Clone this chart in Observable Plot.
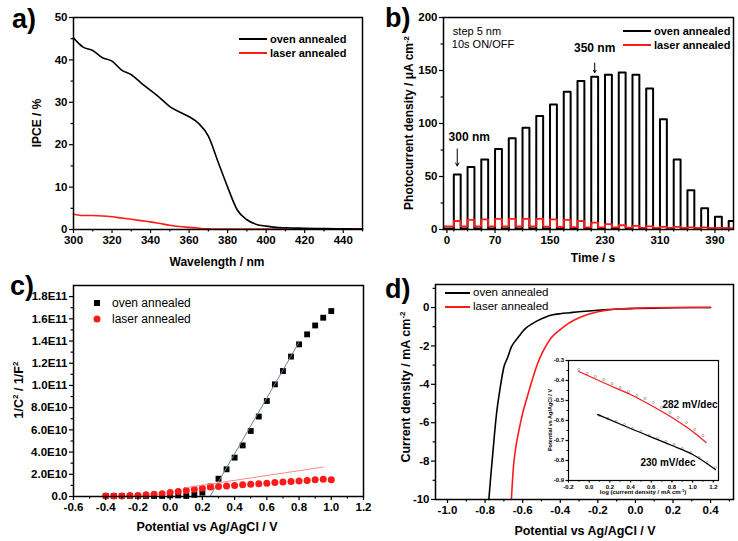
<!DOCTYPE html>
<html><head><meta charset="utf-8">
<script src="https://cdn.jsdelivr.net/npm/d3@7"></script>
<script src="https://cdn.jsdelivr.net/npm/@observablehq/plot@0.6"></script>
<style>
body{margin:0;background:#fff;}
#root{position:relative;width:738px;height:541px;overflow:hidden;background:#fff;font-family:"Liberation Sans",Arial,sans-serif;color:#000;}
.t{position:absolute;white-space:nowrap;line-height:1;transform:translate(-50%,-50%);}
.r{transform:translate(-50%,-50%) rotate(-90deg);}
.b{font-weight:bold;}
.letter{position:absolute;font-weight:bold;font-size:27px;line-height:1;}
.leg{position:absolute;display:flex;align-items:center;white-space:nowrap;line-height:1;}
sup{font-size:65%;vertical-align:0.55em;line-height:0;}
</style></head><body><div id="root"></div>
<script>
// ---------- Panel a: IPCE ----------
const waveNm = [300,305,310,315,320,325,330,335,340,345,350,355,360,365,370,375,380,385,390,395,400,405,410,420,430,440,450];
const ipceOven = [45.2,43.0,42.2,40.5,39.7,37.6,36.5,34.6,32.8,31.0,29.0,27.7,26.6,25.0,22.0,16.0,10.0,4.6,2.3,1.2,0.8,0.5,0.4,0.3,0.2,0.15,0.1];
const ipceLaser = [3.6,3.3,3.3,3.2,3.0,2.7,2.4,2.1,1.8,1.4,1.0,0.7,0.5,0.3,0.15,0.1,0.1,0.1,0.1,0.1,0.1,0.1,0.1,0.1,0.1,0.1,0.1];

// ---------- Panel b: chopped photocurrent ----------
const pulseNm = [300,305,310,315,320,325,330,335,340,345,350,355,360,365,370,375,380,385,390,395,400];
const pulseOnTime = [10,30,50,70,90,110,130,150,170,190,210,230,250,270,290,310,330,350,370,390,410];
const pulseLength = 10;
const ovenPeak = [52,59,66,76,86,96,107,118,130,140,144,146,148,146,133,104,66,37,20,12,8];
const ovenDark = [1,1,1,1,1,1,1,1,1,1,1,1,1,1,1,1,1,1,1,1,1];
const laserPeak = [8,9,9.5,10,10,10,10,9.5,9,8,6.5,5,4,3.5,3,2.5,2.5,2,2,1.5,1.2];
const laserDark = [3,3,3,3,3,3,3,2.5,2.5,2,2,2,2,1.5,1.5,1.5,1.5,1.2,1.2,1,1];

// ---------- Panel c: Mott-Schottky ----------
const potC = [-0.4,-0.35,-0.3,-0.25,-0.2,-0.15,-0.1,-0.05,0,0.05,0.1,0.15,0.2,0.25,0.3,0.35,0.4,0.45,0.5,0.55,0.6,0.65,0.7,0.75,0.8,0.85,0.9,0.95,1.0];
const msOven = [0.05,0.05,0.05,0.05,0.05,0.05,0.05,0.05,0.1,0.1,0.05,0.15,0.35,0.9,1.6,2.45,3.5,4.6,5.9,7.2,8.6,10.1,11.3,12.6,13.7,14.6,15.4,16.1,16.7]; // x1e10
const msLaser = [0.05,0.05,0.05,0.1,0.1,0.15,0.2,0.25,0.35,0.45,0.55,0.65,0.75,0.85,0.9,0.95,1.0,1.05,1.1,1.15,1.2,1.25,1.3,1.35,1.4,1.45,1.5,1.55,1.5]; // x1e10
const fitOvenX = [0.235,0.80], fitOvenY = [-0.3,13.9];   // x1e10
const fitLaserX = [0.10,0.95], fitLaserY = [0.8,2.65];  // x1e10

// ---------- Panel d: LSV ----------
const potOven = [-0.78,-0.77,-0.76,-0.75,-0.74,-0.72,-0.70,-0.68,-0.66,-0.64,-0.62,-0.60,-0.58,-0.55,-0.52,-0.48,-0.44,-0.40,-0.35,-0.30,-0.25,-0.20,-0.15,-0.10,0.0,0.1,0.2,0.3,0.4];
const curOven = [-10,-8.8,-7.7,-6.6,-5.6,-4.2,-3.1,-2.6,-2.05,-1.75,-1.5,-1.25,-1.05,-0.85,-0.68,-0.5,-0.38,-0.32,-0.27,-0.22,-0.18,-0.14,-0.11,-0.08,-0.05,-0.03,-0.01,0,0];
const potLaser = [-0.66,-0.65,-0.64,-0.62,-0.60,-0.58,-0.55,-0.52,-0.49,-0.45,-0.40,-0.36,-0.32,-0.28,-0.24,-0.20,-0.16,-0.10,0.0,0.1,0.2,0.4];
const curLaser = [-10,-8.4,-7.5,-6.4,-5.5,-4.8,-3.8,-2.9,-2.25,-1.6,-1.15,-0.85,-0.62,-0.45,-0.32,-0.22,-0.15,-0.08,-0.03,-0.01,0,0];

// Tafel inset
const tafLaserX = [-0.1,0.2,0.4,0.6,0.8,1.0,1.13];
const tafLaserY = [-0.355,-0.425,-0.47,-0.525,-0.585,-0.655,-0.71];
const tafOvenX = [0.08,0.4,0.8,1.0,1.22];
const tafOvenY = [-0.57,-0.64,-0.725,-0.77,-0.845];
const tafLaserDataX = [-0.1,-0.02,0.06,0.14,0.22,0.3,0.38,0.46,0.54,0.62,0.7,0.78,0.86,0.94,1.02,1.1];
const tafLaserDataY = [-0.345,-0.365,-0.38,-0.395,-0.415,-0.435,-0.455,-0.475,-0.49,-0.51,-0.535,-0.56,-0.585,-0.61,-0.645,-0.675];
const tafOvenDataX = [0.1,0.18,0.26,0.34,0.42,0.5,0.58,0.66,0.74,0.82,0.9,0.98,1.06,1.14,1.22];
const tafOvenDataY = [-0.575,-0.59,-0.605,-0.62,-0.64,-0.655,-0.675,-0.69,-0.705,-0.72,-0.74,-0.76,-0.785,-0.81,-0.835];

const RED = "#ff1a1a";
const FONT = "'Liberation Sans', Arial, sans-serif";
const root = document.getElementById("root");

function zip(xs, ys, s = 1) { return xs.map((x, i) => ({x, y: ys[i] * s})); }
const f1 = d => d.toFixed(1);
const fInt = d => String(d);
const blank = () => "";

function panel({left, top, width, height, m, xDomain, yDomain, xTicks, xMinor, yTicks, yMinor, xFmt, yFmt, marks, fontSize = 11.5, tick = 4, frameW = 1.5, pre = []}) {
  const svg = Plot.plot({
    width, height,
    marginTop: m[0], marginRight: m[1], marginBottom: m[2], marginLeft: m[3],
    x: {domain: xDomain, label: null},
    y: {domain: yDomain, label: null},
    style: {fontFamily: FONT, fontSize: fontSize + "px", fontWeight: "bold", background: "transparent", overflow: "visible", color: "#000"},
    marks: [
      ...pre,
      ...marks,
      Plot.axisX({ticks: xMinor, tickSize: tick * 0.6, tickFormat: blank, strokeWidth: 1.2}),
      Plot.axisX({ticks: xTicks, tickSize: tick, tickPadding: 2, tickFormat: xFmt, strokeWidth: 1.2}),
      Plot.axisY({ticks: yMinor, tickSize: tick * 0.6, tickFormat: blank, strokeWidth: 1.2}),
      Plot.axisY({ticks: yTicks, tickSize: tick, tickPadding: 2, tickFormat: yFmt, strokeWidth: 1.2}),
      Plot.frame({strokeWidth: frameW})
    ]
  });
  svg.style.position = "absolute";
  svg.style.left = left + "px";
  svg.style.top = top + "px";
  root.append(svg);
  return svg;
}

function text(html, x, y, {size = 12, bold = true, rot = false} = {}) {
  const d = document.createElement("div");
  d.className = "t" + (rot ? " r" : "") + (bold ? " b" : "");
  d.style.left = x + "px"; d.style.top = y + "px"; d.style.fontSize = size + "px";
  d.innerHTML = html;
  root.append(d);
}
function letter(s, x, y) {
  const d = document.createElement("div");
  d.className = "letter"; d.style.left = x + "px"; d.style.top = y + "px"; d.textContent = s;
  root.append(d);
}
function legendRow(label, color, kind, x, y, {sw = 28, gap = 3, size = 11, bold = true} = {}) {
  const d = document.createElement("div");
  d.className = "leg"; d.style.left = x + "px"; d.style.top = (y - 7) + "px"; d.style.height = "14px";
  d.style.fontSize = size + "px"; d.style.fontWeight = bold ? "bold" : "normal";
  let shape;
  if (kind === "line") shape = `<line x1="0" x2="${sw}" y1="5" y2="5" stroke="${color}" stroke-width="2"/>`;
  else if (kind === "square") shape = `<rect x="${sw/2-3}" y="2" width="6" height="6" fill="${color}"/>`;
  else shape = `<circle cx="${sw/2}" cy="5" r="3.5" fill="${color}"/>`;
  d.innerHTML = `<svg width="${sw}" height="10" style="margin-right:${gap}px;flex:none">${shape}</svg><span>${label}</span>`;
  root.append(d);
}

// ===== Panel a =====
panel({
  left: 0, top: 0, width: 369, height: 270, m: [17, 7, 41, 73],
  xDomain: [300, 450], yDomain: [0, 50],
  xTicks: d3.range(300, 441, 20), xMinor: d3.range(310, 451, 20),
  yTicks: d3.range(0, 51, 10), yMinor: d3.range(5, 50, 10),
  xFmt: fInt, yFmt: fInt,
  marks: [
    Plot.line(zip(waveNm, ipceLaser), {x: "x", y: "y", stroke: RED, strokeWidth: 1.6, curve: "monotone-x"}),
    Plot.line(zip(waveNm, ipceOven), {x: "x", y: "y", stroke: "#000", strokeWidth: 1.6, curve: "monotone-x"})
  ]
});
letter("a)", 12, 6);
text("Wavelength / nm", 217, 262);
text("IPCE / %", 37, 123, {rot: true});
legendRow("oven annealed", "#000", "line", 239, 39);
legendRow("laser annealed", RED, "line", 239, 53);

// ===== Panel b =====
function pulses(peaks, dark) {
  const pts = [{x: -5, y: dark[0]}];
  peaks.forEach((p, i) => {
    const on = pulseOnTime[i];
    pts.push({x: on, y: dark[i]}, {x: on, y: p}, {x: on + pulseLength, y: p}, {x: on + pulseLength, y: dark[i]});
  });
  pts.push({x: 430, y: dark[dark.length - 1]});
  return pts;
}
const annot = [{label: "300 nm", i: 0}, {label: "350 nm", i: 10}].map(a => ({
  label: a.label, x: pulseOnTime[a.i] + pulseLength / 2, y: ovenPeak[a.i]
}));
panel({
  left: 369, top: 0, width: 369, height: 270, m: [17, 5, 41, 74],
  xDomain: [-5, 417], yDomain: [0, 200],
  xTicks: [0, 70, 150, 230, 310, 390],
  xMinor: [10, 30, 50, 90, 110, 130, 170, 190, 210, 250, 270, 290, 330, 350, 370, 410],
  yTicks: d3.range(0, 201, 50), yMinor: d3.range(25, 200, 50),
  xFmt: fInt, yFmt: fInt,
  marks: [
    Plot.line(pulses(ovenPeak, ovenDark), {x: "x", y: "y", stroke: "#000", strokeWidth: 2, clip: true}),
    Plot.line(pulses(laserPeak, laserDark), {x: "x", y: "y", stroke: RED, strokeWidth: 1.8, clip: true}),
    Plot.text([annot[0]], {x: "x", y: "y", text: "label", dy: -37, dx: 12, fontSize: 12, fontWeight: "bold"}),
    Plot.arrow([annot[0]], {x: "x", y1: d => d.y + 24, y2: d => d.y + 8, stroke: "#000", strokeWidth: 1, headLength: 5}),
    Plot.text([annot[1]], {x: "x", y: "y", text: "label", dy: -29, fontSize: 12, fontWeight: "bold"}),
    Plot.arrow([annot[1]], {x: "x", y1: d => d.y + 13, y2: d => d.y + 4, stroke: "#000", strokeWidth: 1, headLength: 4})
  ]
});
letter("b)", 385, 5);
text("step 5 nm", 450 + 27, 31, {size: 11, bold: false});
text("10s ON/OFF", 450 + 33, 44, {size: 11, bold: false});
text("Time / s", 593, 258);
text("Photocurrent density / μA cm<sup>-2</sup>", 409, 123, {rot: true});
legendRow("oven annealed", "#000", "line", 623, 31);
legendRow("laser annealed", RED, "line", 623, 45);

// ===== Panel c =====
const eFmt = v => {
  if (v === 0) return "0.0";
  const e = Math.floor(Math.log10(v) + 1e-9);
  return (v / Math.pow(10, e)).toFixed(1) + "E" + e;
};
panel({
  left: 0, top: 270, width: 369, height: 271, m: [15, 6, 45, 73],
  xDomain: [-0.6, 1.2], yDomain: [0, 1.9e11],
  xTicks: d3.range(-6, 13, 2).map(v => v / 10), xMinor: d3.range(-5, 12, 2).map(v => v / 10),
  yTicks: d3.range(0, 19, 2).map(v => v * 1e10), yMinor: d3.range(1, 19, 2).map(v => v * 1e10),
  xFmt: f1, yFmt: eFmt,
  marks: [
    Plot.dot(zip(potC, msOven, 1e10), {x: "x", y: "y", symbol: "square", r: 3.3, fill: "#000", stroke: null}),
    Plot.line(zip(fitOvenX, fitOvenY, 1e10), {x: "x", y: "y", stroke: "#6c8099", strokeWidth: 1, clip: true}),
    Plot.dot(zip(potC, msLaser, 1e10), {x: "x", y: "y", r: 3.5, fill: RED, stroke: null}),
    Plot.line(zip(fitLaserX, fitLaserY, 1e10), {x: "x", y: "y", stroke: "#ff8a8a", strokeWidth: 1, clip: true})
  ]
});
letter("c)", 10, 273);
text("Potential vs Ag/AgCl / V", 207, 527, {size: 12.5});
text("1/C<sup>2</sup> / 1/F<sup>2</sup>", 19, 390, {rot: true, size: 12.5});
legendRow("oven annealed", "#000", "square", 89, 303, {sw: 16, gap: 7, size: 12, bold: false});
legendRow("laser annealed", RED, "circle", 89, 319, {sw: 16, gap: 7, size: 12, bold: false});

// ===== Panel d =====
panel({
  left: 369, top: 270, width: 369, height: 271, m: [14, 5, 42, 66],
  xDomain: [-1.064, 0.522], yDomain: [-10, 1.2],
  xTicks: d3.range(-10, 5, 2).map(v => v / 10), xMinor: d3.range(-9, 6, 2).map(v => v / 10),
  yTicks: d3.range(-10, 1, 2), yMinor: d3.range(-9, 2, 2),
  xFmt: f1, yFmt: fInt,
  marks: [
    Plot.line(zip(potOven, curOven), {x: "x", y: "y", stroke: "#000", strokeWidth: 1.6, curve: "monotone-x"}),
    Plot.line(zip(potLaser, curLaser), {x: "x", y: "y", stroke: RED, strokeWidth: 1.6, curve: "monotone-x"})
  ]
});
letter("d)", 385, 276);
text("Potential vs Ag/AgCl / V", 585, 531, {size: 12.5});
text("Current density / mA cm<sup>-2</sup>", 406, 387, {rot: true, size: 12.5});
legendRow("oven annealed", "#000", "line", 445, 293, {sw: 25, gap: 3, size: 11.5, bold: false});
legendRow("laser annealed", RED, "line", 445, 307, {sw: 25, gap: 3, size: 11.5, bold: false});

// ===== Inset (Tafel) =====
panel({
  left: 530, top: 350, width: 195, height: 150, m: [10, 7, 20, 38],
  xDomain: [-0.2, 1.25], yDomain: [-0.9, -0.3],
  xTicks: d3.range(-2, 13, 2).map(v => v / 10), xMinor: d3.range(-1, 13, 2).map(v => v / 10),
  yTicks: d3.range(-9, -2, 1).map(v => v / 10), yMinor: d3.range(-85, -30, 10).map(v => v / 100),
  xFmt: f1, yFmt: f1, fontSize: 6, tick: 2.5, frameW: 1.2,
  pre: [Plot.frame({fill: "#fff"})],
  marks: [
    Plot.dot(zip(tafLaserDataX, tafLaserDataY), {x: "x", y: "y", r: 1.1, stroke: "#8f9bb0", strokeWidth: 0.8}),
    Plot.dot(zip(tafOvenDataX, tafOvenDataY), {x: "x", y: "y", r: 1.1, stroke: "#8f9bb0", strokeWidth: 0.8}),
    Plot.line(zip(tafLaserX, tafLaserY), {x: "x", y: "y", stroke: RED, strokeWidth: 1.3, curve: "monotone-x"}),
    Plot.line(zip(tafOvenX, tafOvenY), {x: "x", y: "y", stroke: "#000", strokeWidth: 1.3, curve: "monotone-x"})
  ]
});
text("282 mV/dec", 690, 405, {size: 10});
text("230 mV/dec", 668, 463, {size: 10});
text("log (current density / mA cm<sup>-1</sup>)", 643, 492, {size: 6});
text("Potential vs Ag/AgCl / V", 551, 420, {size: 5.5, rot: true});
</script></body></html>
